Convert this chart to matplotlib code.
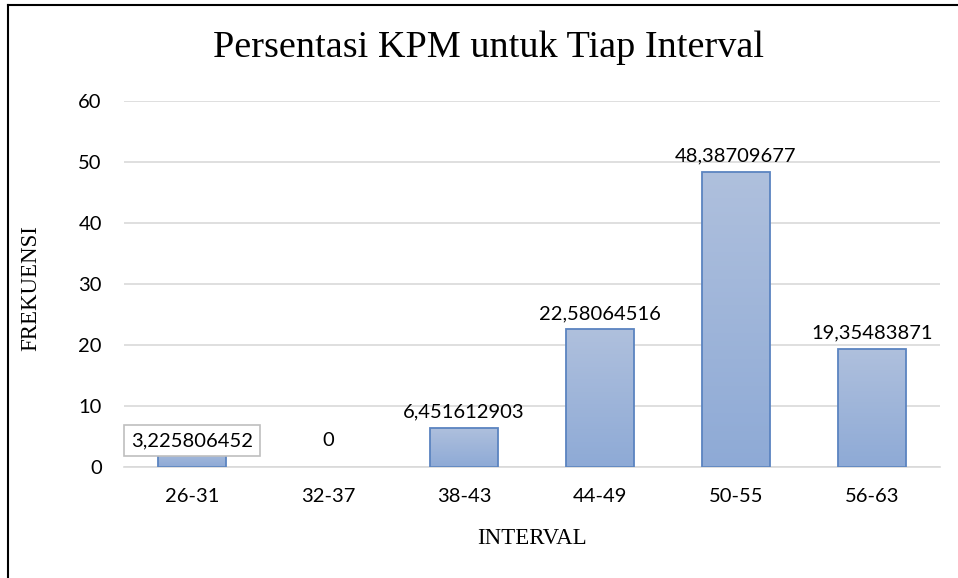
import matplotlib
matplotlib.use("Agg")
import matplotlib.pyplot as plt
import numpy as np
from matplotlib.lines import Line2D
from matplotlib.colors import LinearSegmentedColormap

categories = ["26-31", "32-37", "38-43", "44-49", "50-55", "56-63"]
values = [3.225806452, 0, 6.451612903, 22.58064516, 48.38709677, 19.35483871]
labels = ["3,225806452", "0", "6,451612903", "22,58064516", "48,38709677", "19,35483871"]
yticks = [0, 10, 20, 30, 40, 50, 60]

W, H = 958, 578
fig = plt.figure(figsize=(W / 100, H / 100), dpi=100)
ax = fig.add_axes([124 / W, 1 - 467 / H, (940 - 124) / W, (467 - 101) / H])

x = np.arange(len(categories))
bars = ax.bar(x, values, width=0.5, color="none", edgecolor="#5b84c0", linewidth=1.3, zorder=3)

cmap = LinearSegmentedColormap.from_list("g", ["#8eaad6", "#afc0dd"])
grad = np.linspace(0, 1, 256).reshape(-1, 1)
for b in bars:
    if b.get_height() <= 0:
        b.set_linewidth(0)
        continue
    x0, w, h = b.get_x(), b.get_width(), b.get_height()
    im = ax.imshow(grad, cmap=cmap, aspect="auto", origin="lower",
                   extent=[x0, x0 + w, 0, h], zorder=2)
    im.set_clip_path(b)

ax.set_xlim(-0.5, len(categories) - 0.5)
ax.set_ylim(0, 60)
ax.set_yticks(yticks)
ax.set_xticks(x)
ax.set_xticklabels(categories)
ax.grid(axis="y", color="#d9d9d9", linewidth=1.2, zorder=0)
ax.set_axisbelow(True)
for s in ["top", "right", "left"]:
    ax.spines[s].set_visible(False)
ax.spines["bottom"].set_color("#d9d9d9")
ax.spines["bottom"].set_linewidth(1.2)
ax.tick_params(axis="both", length=0, labelsize=14.5, colors="#000000")
for t in ax.get_xticklabels() + ax.get_yticklabels():
    t.set_fontfamily("Lato")
ax.tick_params(axis="x", pad=15)
ax.tick_params(axis="y", pad=16)

FS = 14.5
for i, (v, lab) in enumerate(zip(values, labels)):
    if i == 0:
        ax.text(i, 4.3, lab, ha="center", va="center", fontsize=FS, fontfamily="Lato",
                bbox=dict(boxstyle="square,pad=0.35", facecolor="white", edgecolor="#bfbfbf", linewidth=1.2),
                zorder=5)
    elif v == 0:
        ax.text(i, 4.3, lab, ha="center", va="center", fontsize=FS, fontfamily="Lato", zorder=5)
    else:
        ax.text(i, v + 1.2, lab, ha="center", va="bottom", fontsize=FS, fontfamily="Lato", zorder=5)

fig.text(488 / W, 1 - 48 / H, "Persentasi KPM untuk Tiap Interval", ha="center", va="center",
         fontsize=27.5, fontfamily="Liberation Serif")
fig.text(31 / W, 1 - 288 / H, "FREKUENSI", ha="center", va="center", rotation=90,
         fontsize=16.5, fontfamily="Liberation Serif")
fig.text(532 / W, 1 - 538 / H, "INTERVAL", ha="center", va="center",
         fontsize=16.5, fontfamily="Liberation Serif")

fig.add_artist(Line2D([8 / W, 8 / W], [0, 1 - 5 / H], transform=fig.transFigure, color="black", linewidth=1.5))
fig.add_artist(Line2D([8 / W, 1], [1 - 5 / H, 1 - 5 / H], transform=fig.transFigure, color="black", linewidth=1.5))

fig.savefig("out.png", dpi=100)
